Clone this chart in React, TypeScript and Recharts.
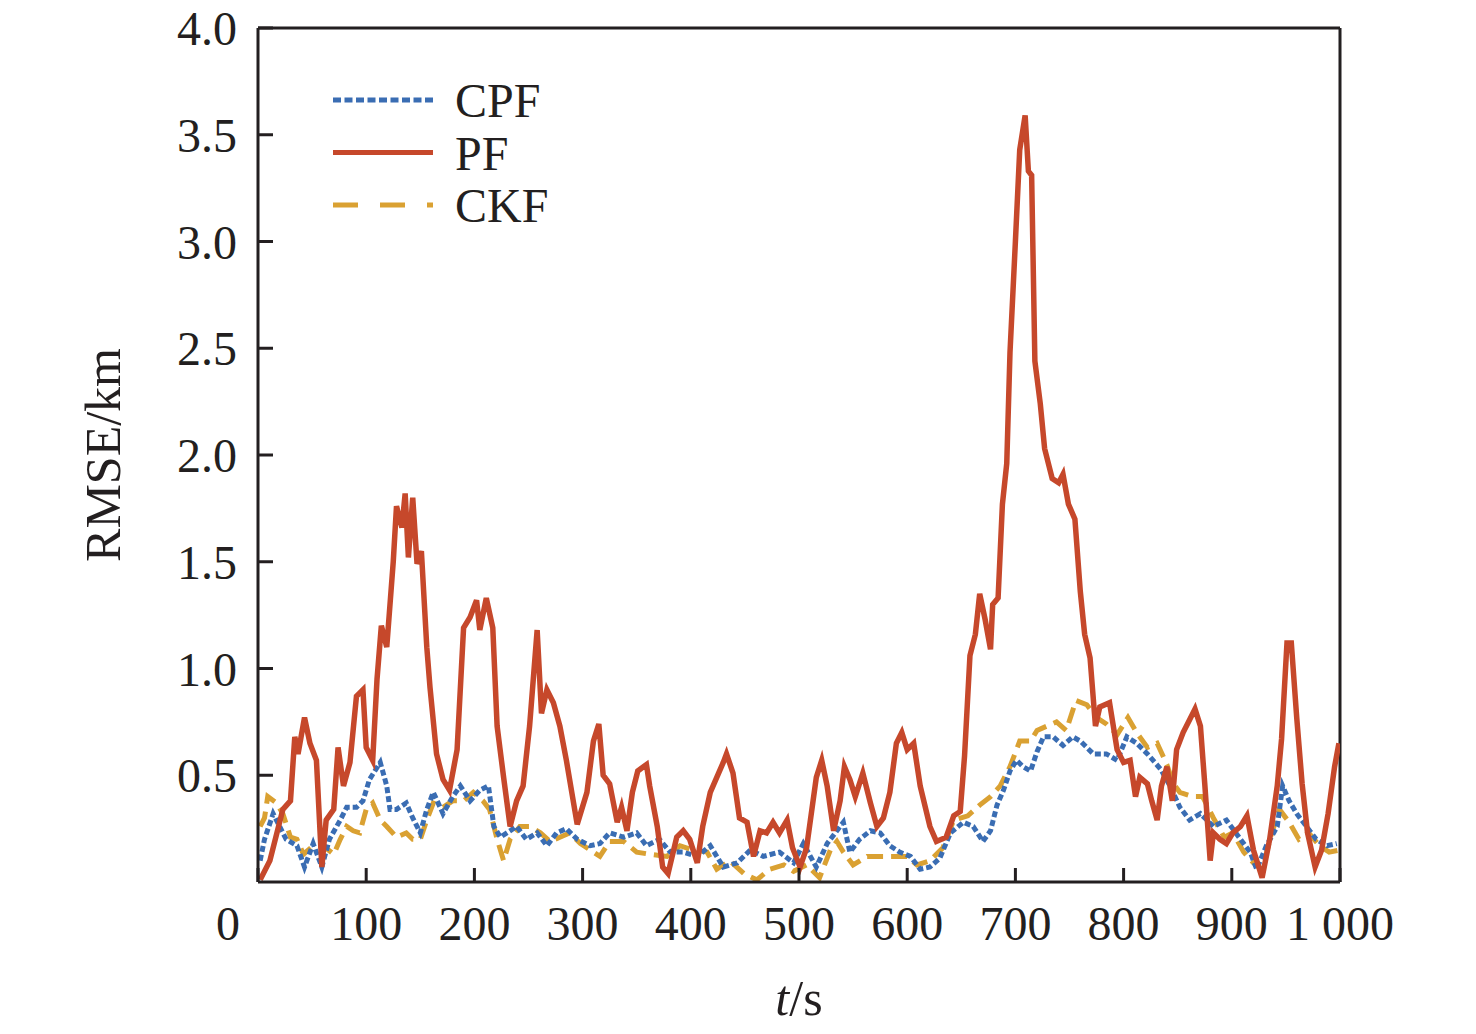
import React from 'react';
import { LineChart, Line, XAxis, YAxis, ReferenceLine, Legend } from 'recharts';

const FONT = '"Liberation Serif", "Times New Roman", Times, serif';
const INK = '#231f20';

const xTicks = [0, 100, 200, 300, 400, 500, 600, 700, 800, 900, 1000];
const yTicks = [0.5, 1.0, 1.5, 2.0, 2.5, 3.0, 3.5, 4.0];

// PF
const pfT = [2, 11, 23, 30, 34, 37, 43, 48, 54, 59, 63, 70, 74, 79, 85, 91, 97, 100, 106, 110, 114, 119, 125, 128, 133, 136, 139, 143, 147, 151, 156, 159, 165, 171, 177, 184, 190, 196, 202, 205, 211, 217, 221, 227, 233, 239, 245, 251, 258, 262, 267, 273, 279, 285, 295, 304, 310, 315, 319, 325, 332, 336, 341, 346, 351, 359, 362, 369, 374, 379, 387, 393, 399, 406, 411, 418, 424, 430, 433, 439, 445, 452, 458, 464, 470, 476, 482, 489, 494, 501, 507, 516, 521, 526, 532, 538, 542, 547, 552, 559, 566, 572, 578, 584, 590, 595, 600, 606, 612, 621, 627, 636, 643, 649, 653, 658, 663, 667, 672, 677, 679, 684, 688, 692, 695, 700, 704, 709, 712, 715, 718, 723, 727, 734, 740, 744, 749, 755, 760, 764, 769, 774, 778, 787, 794, 800, 806, 811, 815, 822, 826, 831, 835, 840, 845, 849, 855, 861, 866, 871, 875, 880, 883, 889, 895, 901, 908, 914, 920, 928, 935, 942, 946, 951, 955, 960, 965, 970, 977, 983, 989, 995, 999];
const pfV = [0.01, 0.1, 0.34, 0.38, 0.68, 0.6, 0.77, 0.65, 0.57, 0.07, 0.29, 0.34, 0.63, 0.45, 0.56, 0.87, 0.9, 0.63, 0.57, 0.95, 1.2, 1.1, 1.5, 1.76, 1.66, 1.82, 1.52, 1.8, 1.49, 1.55, 1.1, 0.91, 0.6, 0.48, 0.43, 0.62, 1.19, 1.24, 1.32, 1.18, 1.33, 1.19, 0.73, 0.49, 0.26, 0.38, 0.45, 0.73, 1.18, 0.79, 0.9, 0.84, 0.73, 0.57, 0.27, 0.42, 0.66, 0.74, 0.5, 0.46, 0.28, 0.35, 0.24, 0.42, 0.52, 0.55, 0.45, 0.26, 0.07, 0.04, 0.21, 0.24, 0.2, 0.09, 0.26, 0.42, 0.49, 0.56, 0.6, 0.51, 0.3, 0.28, 0.12, 0.24, 0.23, 0.28, 0.23, 0.29, 0.16, 0.07, 0.16, 0.49, 0.57, 0.45, 0.24, 0.38, 0.54, 0.48, 0.4, 0.51, 0.37, 0.26, 0.3, 0.42, 0.65, 0.7, 0.62, 0.65, 0.45, 0.26, 0.19, 0.21, 0.31, 0.33, 0.59, 1.06, 1.16, 1.35, 1.23, 1.09, 1.3, 1.33, 1.77, 1.96, 2.48, 3.0, 3.43, 3.59, 3.33, 3.31, 2.44, 2.24, 2.03, 1.89, 1.87, 1.91, 1.77, 1.7, 1.36, 1.16, 1.05, 0.73, 0.82, 0.84, 0.62, 0.56, 0.57, 0.4, 0.49, 0.46, 0.38, 0.29, 0.45, 0.54, 0.38, 0.62, 0.7, 0.76, 0.81, 0.73, 0.46, 0.1, 0.23, 0.2, 0.18, 0.23, 0.26, 0.31, 0.15, 0.02, 0.2, 0.45, 0.67, 1.12, 1.12, 0.77, 0.46, 0.23, 0.07, 0.15, 0.32, 0.54, 0.65];

// CPF
const cpfT = [2, 6, 14, 20, 26, 36, 43, 51, 59, 66, 76, 82, 91, 97, 103, 113, 119, 122, 128, 137, 143, 150, 156, 162, 171, 180, 187, 196, 205, 213, 218, 224, 230, 239, 248, 258, 267, 276, 285, 295, 307, 316, 325, 338, 350, 359, 371, 381, 393, 406, 418, 430, 443, 455, 467, 482, 495, 504, 516, 526, 535, 541, 547, 556, 566, 575, 584, 593, 603, 612, 621, 630, 640, 652, 661, 670, 677, 683, 689, 695, 701, 707, 714, 720, 726, 735, 744, 753, 760, 772, 784, 794, 803, 812, 822, 834, 843, 852, 861, 871, 883, 895, 908, 917, 923, 932, 942, 947, 953, 960, 969, 978, 988, 997];
const cpfV = [0.1, 0.2, 0.32, 0.26, 0.2, 0.17, 0.07, 0.18, 0.07, 0.2, 0.29, 0.35, 0.35, 0.38, 0.48, 0.56, 0.45, 0.34, 0.34, 0.37, 0.3, 0.23, 0.34, 0.42, 0.32, 0.4, 0.45, 0.38, 0.43, 0.45, 0.26, 0.21, 0.23, 0.26, 0.2, 0.23, 0.17, 0.23, 0.25, 0.2, 0.17, 0.18, 0.23, 0.21, 0.23, 0.17, 0.2, 0.14, 0.14, 0.12, 0.17, 0.07, 0.09, 0.15, 0.12, 0.14, 0.09, 0.18, 0.07, 0.18, 0.24, 0.28, 0.14, 0.2, 0.24, 0.23, 0.17, 0.14, 0.12, 0.06, 0.07, 0.11, 0.23, 0.28, 0.26, 0.19, 0.24, 0.36, 0.43, 0.52, 0.57, 0.54, 0.52, 0.61, 0.68, 0.68, 0.64, 0.68, 0.66, 0.6, 0.6, 0.57, 0.68, 0.65, 0.6, 0.53, 0.45, 0.35, 0.29, 0.32, 0.26, 0.29, 0.2, 0.14, 0.06, 0.17, 0.26, 0.45, 0.38, 0.32, 0.26, 0.2, 0.17, 0.18];

// CKF
const ckfT = [2, 6, 9, 17, 23, 30, 36, 42, 51, 60, 70, 76, 82, 88, 94, 100, 106, 113, 119, 128, 137, 143, 150, 156, 162, 171, 180, 190, 199, 208, 214, 221, 227, 233, 242, 251, 261, 270, 279, 288, 298, 307, 316, 325, 338, 350, 362, 378, 390, 402, 415, 424, 436, 449, 461, 473, 486, 495, 507, 519, 529, 535, 541, 550, 563, 575, 587, 600, 609, 621, 633, 643, 656, 667, 677, 686, 695, 704, 714, 720, 729, 738, 747, 756, 766, 775, 784, 794, 804, 812, 822, 831, 840, 846, 852, 864, 873, 883, 893, 901, 911, 920, 928, 937, 944, 953, 962, 971, 981, 990, 1000];
const ckfV = [0.26, 0.3, 0.4, 0.37, 0.32, 0.21, 0.2, 0.13, 0.17, 0.17, 0.13, 0.2, 0.26, 0.24, 0.23, 0.34, 0.37, 0.29, 0.26, 0.21, 0.23, 0.2, 0.2, 0.29, 0.37, 0.35, 0.38, 0.38, 0.42, 0.38, 0.34, 0.2, 0.1, 0.2, 0.26, 0.26, 0.23, 0.19, 0.21, 0.23, 0.18, 0.15, 0.12, 0.19, 0.19, 0.14, 0.13, 0.12, 0.17, 0.15, 0.14, 0.06, 0.1, 0.04, 0.01, 0.06, 0.08, 0.05, 0.08, 0.02, 0.15, 0.19, 0.14, 0.08, 0.12, 0.12, 0.12, 0.12, 0.08, 0.1, 0.16, 0.29, 0.31, 0.36, 0.4, 0.45, 0.54, 0.66, 0.66, 0.71, 0.73, 0.75, 0.71, 0.85, 0.83, 0.77, 0.74, 0.69, 0.77, 0.7, 0.63, 0.65, 0.55, 0.46, 0.42, 0.4, 0.4, 0.3, 0.21, 0.23, 0.14, 0.09, 0.06, 0.23, 0.34, 0.28, 0.2, 0.23, 0.17, 0.14, 0.15];

const toRows = (ts: number[], vs: number[]) => ts.map((t, i) => ({ t, v: vs[i] }));

const cpfData = toRows(cpfT, cpfV);
const pfData = toRows(pfT, pfV);
const ckfData = toRows(ckfT, ckfV);

const seriesNames = ['CPF', 'PF', 'CKF'];
const seriesColors: Record<string, string> = { CPF: '#3a6db3', PF: '#c6482b', CKF: '#daa132' };
const plotDash: Record<string, string | undefined> = { CPF: '6 3', PF: undefined, CKF: '16 8' };
const legendDash: Record<string, string | undefined> = { CPF: '8 3.5', PF: undefined, CKF: '25 22' };

const XTick = (props: any) => {
  const { x, y, payload } = props;
  const v = payload.value as number;
  const label = v === 1000 ? '1 000' : String(v);
  const dx = v === 0 ? -30 : 0;
  return (
    <text x={x + dx} y={y + 58} textAnchor="middle" fontFamily={FONT} fontSize={48} fill={INK}>
      {label}
    </text>
  );
};

const YTick = (props: any) => {
  const { x, y, payload } = props;
  return (
    <text x={x - 21} y={y + 17} textAnchor="end" fontFamily={FONT} fontSize={48} fill={INK}>
      {(payload.value as number).toFixed(1)}
    </text>
  );
};

const YLabel = (props: any) => {
  const vb = props.viewBox || {};
  const cx = vb.x + 45;
  const cy = vb.y + vb.height / 2;
  return (
    <text
      transform={`translate(${cx},${cy}) rotate(-90)`}
      textAnchor="middle"
      dominantBaseline="central"
      fontFamily={FONT}
      fontSize={50}
      fill={INK}
    >
      RMSE/km
    </text>
  );
};

const XLabel = (props: any) => {
  const vb = props.viewBox || {};
  const cx = vb.x + vb.width / 2;
  const cy = vb.y + 133;
  return (
    <text x={cx} y={cy} textAnchor="middle" fontFamily={FONT} fontSize={50} fill={INK}>
      <tspan fontStyle="italic">t</tspan>
      <tspan>/s</tspan>
    </text>
  );
};

const LegendContent = () => (
  <svg width={280} height={190} style={{ display: 'block', overflow: 'visible' }}>
    {seriesNames.map((name, i) => {
      const cy = 30 + i * 52.5;
      return (
        <g key={name}>
          <line
            x1={0}
            x2={100}
            y1={cy}
            y2={cy}
            stroke={seriesColors[name]}
            strokeWidth={5}
            strokeDasharray={legendDash[name]}
          />
          <text x={122} y={cy + 17} fontFamily={FONT} fontSize={48} fill={INK}>
            {name}
          </text>
        </g>
      );
    })}
  </svg>
);

export default function App() {
  return (
    <div style={{ width: 1476, height: 1034, margin: '-8px 0 0 -8px' }}>
      <LineChart
        width={1476}
        height={1034}
        margin={{ top: 28, right: 136, left: 58, bottom: 72 }}
      >
        <XAxis
          dataKey="t"
          type="number"
          domain={[0, 1000]}
          ticks={xTicks}
          allowDataOverflow
          height={80}
          tickSize={-14}
          tickMargin={14}
          tick={<XTick />}
          axisLine={{ stroke: INK, strokeWidth: 3 }}
          tickLine={{ stroke: INK, strokeWidth: 3 }}
          interval={0}
          label={<XLabel />}
        />
        <YAxis
          type="number"
          domain={[0, 4]}
          ticks={yTicks}
          allowDataOverflow
          width={200}
          tickSize={-15}
          tickMargin={15}
          tick={<YTick />}
          axisLine={{ stroke: INK, strokeWidth: 3 }}
          tickLine={{ stroke: INK, strokeWidth: 3 }}
          interval={0}
          label={<YLabel />}
        />
        <ReferenceLine y={4} stroke={INK} strokeWidth={3} />
        <ReferenceLine x={1000} stroke={INK} strokeWidth={3} />
        <Line
          data={ckfData}
          dataKey="v"
          name="CKF"
          type="linear"
          stroke={seriesColors.CKF}
          strokeWidth={5}
          strokeDasharray={plotDash.CKF}
          dot={false}
          activeDot={false}
          isAnimationActive={false}
        />
        <Line
          data={cpfData}
          dataKey="v"
          name="CPF"
          type="linear"
          stroke={seriesColors.CPF}
          strokeWidth={5}
          strokeDasharray={plotDash.CPF}
          dot={false}
          activeDot={false}
          isAnimationActive={false}
        />
        <Line
          data={pfData}
          dataKey="v"
          name="PF"
          type="linear"
          stroke={seriesColors.PF}
          strokeWidth={5.5}
          dot={false}
          activeDot={false}
          isAnimationActive={false}
        />
        <Legend
          layout="vertical"
          align="center"
          verticalAlign="middle"
          content={<LegendContent />}
          wrapperStyle={{ left: 333, top: 70, width: 280, height: 190 }}
        />
      </LineChart>
    </div>
  );
}
